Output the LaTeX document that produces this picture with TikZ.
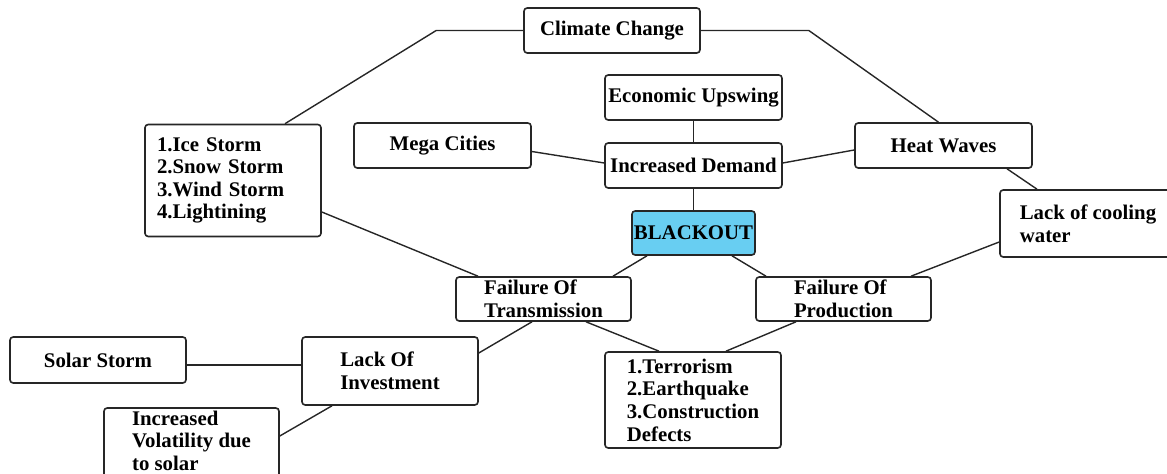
\documentclass[tikz,border=0pt]{standalone}
\usepackage{fontspec}
\setmainfont{Liberation Serif}
\usepackage{tikz}
\usetikzlibrary{calc}
\usepackage{xcolor}
\definecolor{blackoutblue}{RGB}{104,206,242}
\begin{document}
\begin{tikzpicture}[x=0.5pt, y=-0.5pt]
			\tikzstyle{causebox}=[
			draw=black!85,
			line width=0.8pt,
			rounded corners=1.6pt,
			fill=white,
			align=left,
			font=\fontsize{10.4}{11.3}\selectfont\bfseries,
			minimum width=88pt,
			minimum height=22.5pt,
			inner sep=1pt
			]
			\tikzstyle{link}=[draw=black!85, line width=0.7pt]
			\clip (0,0) rectangle (1167,474);
			% top row
			\node[causebox] (CLIMATE) at (612,30.5) {Climate Change};
			\node[causebox, minimum width=88.5pt] (UPSWING) at (693.5,97.5) {Economic Upswing};
			\node[causebox, minimum width=88.5pt] (MEGA) at (442.5,145.5) {Mega Cities};
			\node[causebox, minimum width=88.5pt] (DEMAND) at (693.5,165.5) {Increased Demand};
			\node[causebox, minimum width=88.5pt] (HEAT) at (943.5,145.5) {Heat Waves};
			\node[causebox, minimum height=56pt, text width=76pt, inner xsep=6pt] (STORMS) at (233,180.5)
			{1.Ice Storm\\2.Snow Storm\\3.Wind Storm\\4.Lightining};
			\node[causebox, fill=blackoutblue, minimum width=58.5pt, minimum height=22pt] (BLACKOUT) at (693.5,233) {BLACKOUT};
			\node[causebox, minimum width=88pt, minimum height=33.5pt] (COOLING) at (1088,223.5) {Lack of cooling\\water};
			% failures
			\node[causebox, minimum width=87.5pt, minimum height=22pt] (TRANS) at (543.5,299) {Failure Of\\Transmission};
			\node[causebox, minimum width=87.5pt, minimum height=22pt] (PROD) at (843.5,299) {Failure Of\\Production};
			\node[causebox, minimum height=48pt] (HAZARDS) at (693,400)
			{1.Terrorism\\2.Earthquake\\3.Construction\\Defects};
			\node[causebox, minimum height=23pt] (SOLAR) at (98,360) {Solar Storm};
			\node[causebox, minimum height=34pt] (INVEST) at (390,371) {Lack Of\\Investment};
			\node[causebox, minimum width=87.5pt, minimum height=37.5pt, text depth=5pt] (VOLATILE) at (191.5,445.5)
			{Increased\\Volatility due\\to solar};
			% connectors
			\path[link] (CLIMATE.west) -- ++(-87,0) -- ($(STORMS.north)+(52,0)$);
			\path[link] (CLIMATE.east) -- ++(108,0) -- ($(HEAT.north)+(-5,0)$);
			\path[link] (UPSWING) -- (DEMAND);
			\path[link] ($(MEGA.east)+(0,6)$) -- ($(DEMAND.west)+(0,-2.5)$);
			\path[link] ($(DEMAND.east)+(0,-2.5)$) -- ($(HEAT.west)+(0,4.5)$);
			\path[link] (DEMAND) -- (BLACKOUT);
			\path[link] ($(HEAT.south)+(63.5,0)$) -- ($(COOLING.north)+(-51,0)$);
			\path[link] ($(STORMS.east)+(0,31.5)$) -- ($(TRANS.north)+(-65.5,0)$);
			\path[link] ($(BLACKOUT.south)+(-46.5,0)$) -- ($(TRANS.north)+(69.5,0)$);
			\path[link] ($(BLACKOUT.south)+(38.5,0)$) -- ($(PROD.north)+(-77.5,0)$);
			\path[link] ($(COOLING.west)+(0,18.5)$) -- ($(PROD.north)+(67.5,0)$);
			\path[link] ($(TRANS.south)+(42.5,0)$) -- ($(HAZARDS.north)+(-34,0)$);
			\path[link] ($(PROD.south)+(-47.5,0)$) -- ($(HAZARDS.north)+(33,0)$);
			\path[link] ($(TRANS.south)+(-11.5,0)$) -- ($(INVEST.east)+(0,-18)$);
			\path[link] ($(SOLAR.east)+(0,5)$) -- ($(INVEST.west)+(0,-6)$);
			\path[link] ($(INVEST.south)+(-58,0)$) -- ($(VOLATILE.east)+(0,-9.5)$);
			%\node[draw=red, fit=(BLACKOUT)] {};
		\end{tikzpicture}
\end{document}
